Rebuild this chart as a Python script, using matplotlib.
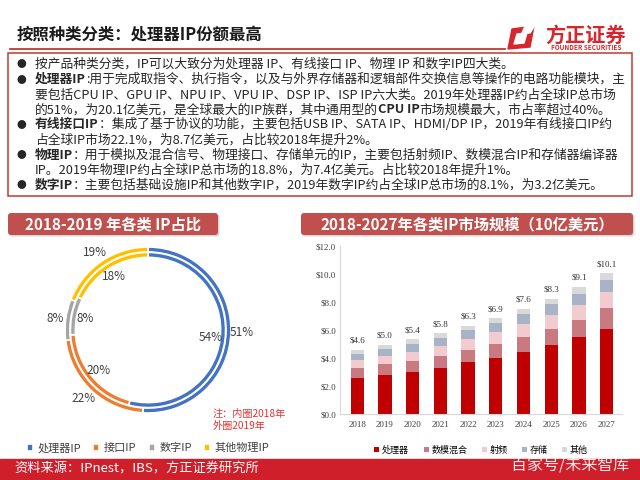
import numpy as np
import matplotlib
matplotlib.use("Agg")
import matplotlib.pyplot as plt
from matplotlib.patches import Rectangle, FancyBboxPatch, Polygon
from matplotlib.ticker import FuncFormatter

plt.rcParams['font.family'] = ['Noto Sans CJK SC', 'DejaVu Sans']

# ---- data ----
donut_labels = ["处理器IP", "接口IP", "数字IP", "其他物理IP"]
share_2019 = [51, 22, 8, 19]   # outer ring
share_2018 = [54, 20, 8, 18]   # inner ring
donut_colors = ["#4472C4", "#ED7D31", "#A5A5A5", "#FFC000"]

years = ["2018", "2019", "2020", "2021", "2022", "2023", "2024", "2025", "2026", "2027"]
totals = [4.6, 5.0, 5.4, 5.8, 6.3, 6.9, 7.6, 8.3, 9.1, 10.1]
processor = [2.6, 2.8, 3.0, 3.3, 3.7, 4.0, 4.45, 4.9, 5.5, 6.1]
mixed_signal = [0.7, 0.75, 0.8, 0.85, 0.9, 1.0, 1.07, 1.2, 1.25, 1.45]
rf = [0.57, 0.6, 0.62, 0.7, 0.74, 0.84, 0.88, 0.98, 1.07, 1.15]
storage = [0.42, 0.46, 0.57, 0.6, 0.67, 0.69, 0.77, 0.78, 0.76, 0.86]
other = [0.3, 0.33, 0.34, 0.33, 0.31, 0.33, 0.35, 0.38, 0.5, 0.5]
bar_series = [("处理器", processor, "#C00000"),
              ("数模混合", mixed_signal, "#C97A80"),
              ("射频", rf, "#F2CBCF"),
              ("存储", storage, "#A8B3C7"),
              ("其他", other, "#D9D9D9")]

title = "按照种类分类：处理器IP份额最高"
bullets = [
    (True, [("按产品种类分类，IP可以大致分为处理器 IP、有线接口 IP、物理 IP 和数字IP四大类。", False)]),
    (True, [("处理器IP", True), (":用于完成取指令、执行指令，以及与外界存储器和逻辑部件交换信息等操作的电路功能模块，主", False)]),
    (False, [("要包括CPU IP、GPU IP、NPU IP、VPU IP、DSP IP、ISP IP六大类。2019年处理器IP约占全球IP总市场", False)]),
    (False, [("的51%，为20.1亿美元，是全球最大的IP族群，其中通用型的", False), ("CPU IP", True),
             ("市场规模最大，市占率超过40%。", False)]),
    (True, [("有线接口IP", True), ("：集成了基于协议的功能，主要包括USB IP、SATA IP、HDMI/DP IP，2019年有线接口IP约", False)]),
    (False, [("占全球IP市场22.1%，为8.7亿美元，占比较2018年提升2%。", False)]),
    (True, [("物理IP", True), ("：用于模拟及混合信号、物理接口、存储单元的IP，主要包括射频IP、数模混合IP和存储器编译器", False)]),
    (False, [("IP。2019年物理IP约占全球IP总市场的18.8%，为7.4亿美元。占比较2018年提升1%。", False)]),
    (True, [("数字IP", True), ("：主要包括基础设施IP和其他数字IP，2019年数字IP约占全球IP总市场的8.1%，为3.2亿美元。", False)]),
]

W, H = 640, 480
fig = plt.figure(figsize=(6.4, 4.8), dpi=100)
bg = fig.add_axes([0, 0, 1, 1])
bg.set_xlim(0, W)
bg.set_ylim(H, 0)
bg.axis("off")
renderer = fig.canvas.get_renderer()

RED = "#C0392B"
TXT = "#262626"

# title + rule
bg.text(17, 35, title, fontsize=11.8, fontweight="bold", color="#1a1a1a", va="center")
bg.plot([10, 505], [48.5, 48.5], color=RED, lw=1.3)

# logo
bg.add_patch(Polygon([[512, 29], [534, 26], [530, 47], [508, 49]], closed=True, color="#D7262D"))
bg.add_patch(Polygon([[517, 34], [527, 33], [524, 43], [514, 44]], closed=True, color="white"))
bg.add_patch(Polygon([[525, 26], [536, 24], [530, 33], [522, 33]], closed=True, color="white"))
bg.text(586, 35, "方正证券", fontsize=14.5, fontweight="bold", color="#D7262D", ha="center", va="center")
bg.text(586, 48, "FOUNDER SECURITIES", fontsize=4.6, fontweight="bold", color="#D7262D",
        ha="center", va="center")

# bullet box
bg.add_patch(Rectangle((8, 53), 624, 143, fill=False, edgecolor=RED, lw=1.1))
fs = 9.2
y0, dy = 64.5, 15.1
for i, (has_bullet, segs) in enumerate(bullets):
    y = y0 + i * dy
    if has_bullet:
        bg.text(21, y, "●", fontsize=7, color=TXT, ha="center", va="center")
    x = 35
    for s, bold in segs:
        t = bg.text(x, y, s, fontsize=fs, color=TXT, va="center", ha="left",
                    fontweight="bold" if bold else "normal")
        x += t.get_window_extent(renderer).width

# section headers
for (x1, x2, label) in [(8, 218, "2018-2019 年各类 IP占比"),
                        (301, 633, "2018-2027年各类IP市场规模（10亿美元）")]:
    bg.add_patch(FancyBboxPatch((x1 + 1.5, 214.5), x2 - x1, 22,
                                boxstyle="round,pad=0,rounding_size=3",
                                facecolor="#BBBBBB", edgecolor="none", alpha=0.6))
    bg.add_patch(FancyBboxPatch((x1, 213), x2 - x1, 22,
                                boxstyle="round,pad=0,rounding_size=3",
                                facecolor="#C0504D", edgecolor="none"))
    bg.text((x1 + x2) / 2, 224, label, fontsize=11, fontweight="bold", color="white",
            ha="center", va="center")

# donut
cx, cy, R = 148, 330, 83
ax_d = fig.add_axes([(cx - R) / W, 1 - (cy + R) / H, 2 * R / W, 2 * R / H])
wedges, _, pcts_o = ax_d.pie(share_2019, radius=1.0, startangle=90, counterclock=False,
                             colors=donut_colors, autopct="%.0f%%", pctdistance=1.13,
                             wedgeprops=dict(width=0.06, edgecolor="white", linewidth=1.2),
                             textprops=dict(fontsize=8.5, color="#404040"))
_, _, pcts_i = ax_d.pie(share_2018, radius=0.935, startangle=90, counterclock=False,
                        colors=donut_colors, autopct="%.0f%%", pctdistance=0.82,
                        wedgeprops=dict(width=0.06, edgecolor="white", linewidth=1.2),
                        textprops=dict(fontsize=8.5, color="#404040"))
ax_d.set_xlim(-1, 1)
ax_d.set_ylim(-1, 1)
ax_d.set_aspect("equal")
ax_d.axis("off")

bg.text(213, 420, "注：内圈2018年\n外圈2019年", fontsize=7.3, color="#E8322F",
        va="center", ha="left", linespacing=1.3)

fig.legend(wedges, donut_labels, loc="center", bbox_to_anchor=(148 / W, 1 - 448 / H),
           ncol=4, frameon=False, fontsize=8, handlelength=0.55, handleheight=0.55,
           handletextpad=0.4, columnspacing=1.1, labelcolor="#404040")

# stacked bars
ax_b = fig.add_axes([340 / W, 1 - 414 / H, 282 / W, 168 / H])
x = np.arange(len(years))
bottom = np.zeros(len(years))
for name, vals, col in bar_series:
    ax_b.bar(x, vals, bottom=bottom, width=0.48, color=col, label=name)
    bottom += np.array(vals)
for xi, top, tot in zip(x, bottom, totals):
    ax_b.text(xi, top + 0.35, f"${tot:.1f}", ha="center", va="bottom", fontsize=6.5,
              family="Liberation Serif", color="#333333")
ax_b.set_xlim(-0.62, 9.55)
ax_b.set_ylim(0, 12)
ax_b.set_yticks(np.arange(0, 13, 2))
ax_b.yaxis.set_major_formatter(FuncFormatter(lambda v, p: f"${v:.1f}"))
ax_b.set_xticks(x)
ax_b.set_xticklabels(years)
for lab in ax_b.get_xticklabels() + ax_b.get_yticklabels():
    lab.set_family("Liberation Serif")
    lab.set_fontsize(6.5)
    lab.set_color("#404040")
ax_b.tick_params(length=0, pad=3)
ax_b.tick_params(axis="x", pad=5)
for s in ["top", "right"]:
    ax_b.spines[s].set_visible(False)
ax_b.spines["left"].set_color("#D9D9D9")
ax_b.spines["bottom"].set_color("#D9D9D9")
ax_b.legend(loc="center", bbox_to_anchor=(0.5, (414 - 450) / 168), ncol=5, frameon=False,
            fontsize=6.5, handlelength=0.55, handleheight=0.55, handletextpad=0.3,
            columnspacing=1.6)

# footer
bg.add_patch(Rectangle((0, 459), W, 21, color="#CF1F2B"))
bg.text(14, 469.5, "资料来源：IPnest，IBS，方正证券研究所", fontsize=9.5, color="white", va="center")
bg.text(570, 466, "百家号/未来智库", fontsize=11.5, color="white", va="center", ha="center", alpha=0.9)

fig.savefig("out.png", dpi=100)
